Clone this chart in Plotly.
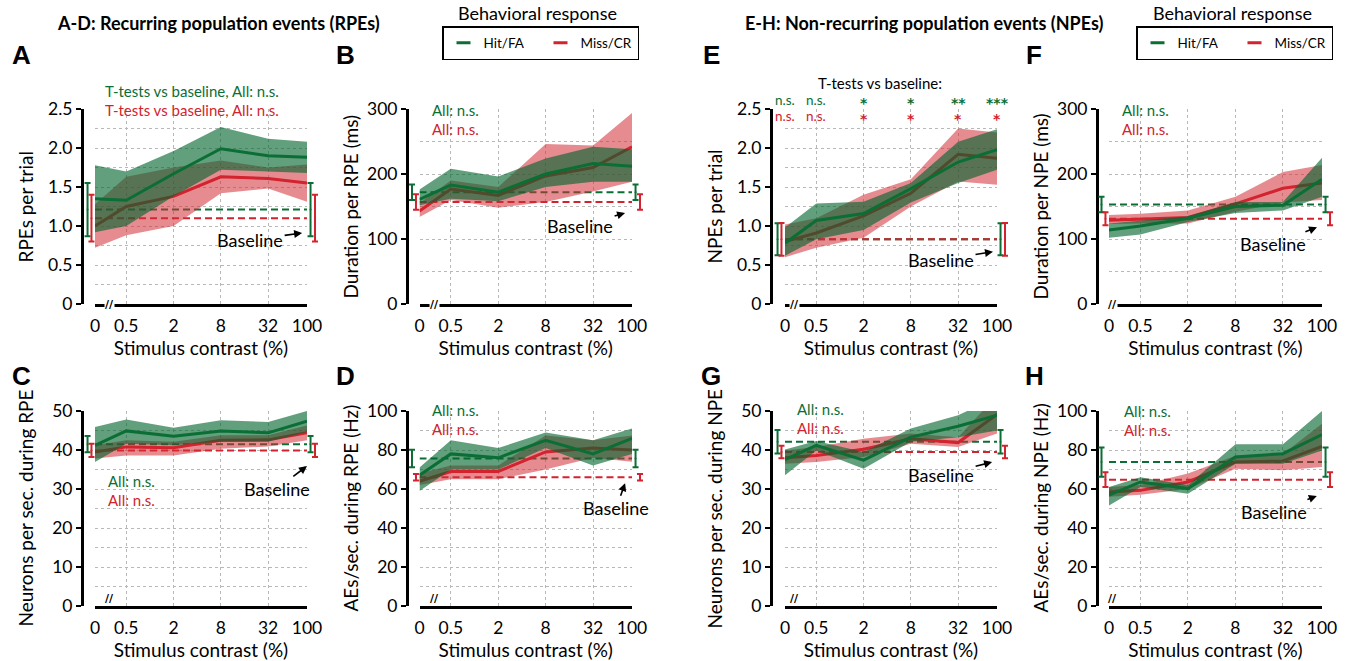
import math
import plotly.graph_objects as go

# ---------------- data ----------------
contrast_labels = ["0", "0.5", "2", "8", "32", "100"]
contrast = [0, 0.5, 2, 8, 32, 100]
ZERO_POS = 0.2  # position on the log axis where contrast 0 is drawn
x_plot = [ZERO_POS if c == 0 else c for c in contrast]

# A: RPEs per trial
A_hit_mean = [1.35, 1.33, 1.67, 1.99, 1.90, 1.88]
A_hit_lo = [0.92, 1.00, 1.38, 1.72, 1.70, 1.68]
A_hit_hi = [1.78, 1.70, 1.96, 2.27, 2.12, 2.08]
A_miss_mean = [1.00, 1.25, 1.38, 1.63, 1.61, 1.55]
A_miss_lo = [0.72, 0.88, 1.00, 1.42, 1.48, 1.31]
A_miss_hi = [1.28, 1.63, 1.75, 1.84, 1.75, 1.79]
A_base = [1.21, 1.10]
A_base_err = [0.34, 0.30]

# B: Duration per RPE (ms)
B_hit_mean = [161, 183, 172, 200, 216, 212]
B_hit_lo = [152, 162, 158, 180, 188, 188]
B_hit_hi = [176, 208, 196, 224, 242, 238]
B_miss_mean = [143, 177, 167, 197, 210, 242]
B_miss_lo = [134, 160, 148, 157, 173, 188]
B_miss_hi = [155, 190, 180, 246, 244, 294]
B_base = [172, 157]
B_base_err = [12, 12]

# C: Neurons per sec. during RPE
C_hit_mean = [41.2, 44.9, 43.5, 44.9, 44.4, 47.4]
C_hit_lo = [36.9, 41.6, 41.2, 42.1, 42.1, 44.6]
C_hit_hi = [45.9, 47.8, 45.7, 47.6, 47.2, 50.0]
C_miss_mean = [39.5, 40.8, 40.6, 42.5, 42.6, 44.4]
C_miss_lo = [37.8, 38.6, 38.6, 40.3, 40.9, 42.5]
C_miss_hi = [41.2, 42.5, 42.1, 43.8, 43.8, 46.3]
C_base = [41.5, 39.9]
C_base_err = [2.1, 1.7]

# D: AEs/sec. during RPE (Hz)
D_hit_mean = [67, 78, 76, 85, 78, 86]
D_hit_lo = [59, 70, 70, 81, 72, 78]
D_hit_hi = [71, 85, 81, 89, 85, 91]
D_miss_mean = [64, 69, 69, 79, 81, 80]
D_miss_lo = [62, 65, 65, 70, 76, 74]
D_miss_hi = [68, 72, 72, 87.5, 85, 87.5]
D_base = [75.6, 66]
D_base_err = [4.5, 1.7]

# E: NPEs per trial
E_hit_mean = [0.78, 1.07, 1.16, 1.48, 1.82, 1.98]
E_hit_lo = [0.62, 0.83, 0.95, 1.30, 1.55, 1.72]
E_hit_hi = [0.98, 1.29, 1.31, 1.55, 2.08, 2.24]
E_miss_mean = [0.80, 0.91, 1.13, 1.42, 1.92, 1.87]
E_miss_lo = [0.60, 0.72, 0.85, 1.25, 1.57, 1.53]
E_miss_hi = [1.02, 1.10, 1.40, 1.60, 2.25, 2.20]
E_base = [0.83, 0.83]
E_base_err = [0.205, 0.21]
E_sig_hit = ["n.s.", "n.s.", "*", "*", "**", "***"]
E_sig_miss = ["n.s.", "n.s.", "*", "*", "*", "*"]

# F: Duration per NPE (ms)
F_hit_mean = [114, 120, 132, 150, 152, 192]
F_hit_lo = [102, 107, 126, 140, 144, 165]
F_hit_hi = [124, 128, 135, 157, 157, 225]
F_miss_mean = [129, 131, 133, 154, 178, 186]
F_miss_lo = [123, 124, 124, 142, 156, 160]
F_miss_hi = [137, 139, 144, 165, 203, 214]
F_base = [153, 131]
F_base_err = [12, 10]

# G: Neurons per sec. during NPE
G_hit_mean = [37.5, 41.2, 37.4, 43.3, 46.1, 48.9]
G_hit_lo = [33.5, 39.9, 35.2, 42.1, 43.3, 45.0]
G_hit_hi = [40.1, 42.3, 39.5, 45.5, 48.9, 53.6]
G_miss_mean = [38.0, 38.6, 40.2, 42.9, 41.9, 49.1]
G_miss_lo = [36.5, 36.9, 38.2, 41.6, 40.8, 44.2]
G_miss_hi = [39.9, 40.8, 42.9, 44.2, 43.3, 54.0]
G_base = [42.1, 39.5]
G_base_err = [3.0, 1.6]

# H: AEs/sec. during NPE (Hz)
H_hit_mean = [56.8, 63.6, 60.2, 76.4, 78.1, 87.9]
H_hit_lo = [51.6, 61.0, 57.6, 73.0, 73.0, 79.8]
H_hit_hi = [61.0, 66.0, 62.0, 83.0, 83.0, 100.0]
H_miss_mean = [58.5, 59.3, 63.6, 73.8, 74.4, 81.9]
H_miss_lo = [56.0, 57.0, 60.0, 70.4, 69.6, 71.3]
H_miss_hi = [61.0, 62.0, 68.0, 77.0, 78.0, 93.5]
H_base = [73.8, 64.8]
H_base_err = [7.5, 3.8]

# ---------------- style ----------------
W, H = 1346, 661
FONT = "Lato"
GREEN = "#0b6e35"
RED = "#d2232e"
GREEN_FILL = "rgba(0,100,45,0.62)"
RED_FILL = "rgba(210,45,55,0.55)"
GRID = "#b8b8b8"


def px(x):
    return x / W


def py(y):
    return 1 - y / H


LOG0, LOG1 = math.log10(x_plot[0]), math.log10(x_plot[-1])
# column geometry: (data left, data right, y-axis line, letter x)
COLS = [(95, 307, 82, 21), (419.5, 632, 407, 346), (785, 997, 771, 711), (1109, 1322, 1097, 1034)]
ROWS = [(304, 109), (606, 411)]
EXT = 14  # px extension of the hidden baseline-error-bar axes

panels = [
    dict(letter="A", col=0, row=0, hit=(A_hit_mean, A_hit_lo, A_hit_hi), miss=(A_miss_mean, A_miss_lo, A_miss_hi),
         base=A_base, err=A_base_err, ymax=2.5, ticks=[0, 0.5, 1, 1.5, 2, 2.5],
         ticktext=["0", "0.5", "1.0", "1.5", "2.0", "2.5"], minor=0.25, title="RPEs per trial",
         arrow=(86.7, 0.91, -52, 7)),
    dict(letter="B", col=1, row=0, hit=(B_hit_mean, B_hit_lo, B_hit_hi), miss=(B_miss_mean, B_miss_lo, B_miss_hi),
         base=B_base, err=B_base_err, ymax=300, ticks=[0, 100, 200, 300], ticktext=["0", "100", "200", "300"],
         minor=50, title="Duration per RPE (ms)", arrow=(81.7, 140, -45, 13)),
    dict(letter="E", col=2, row=0, hit=(E_hit_mean, E_hit_lo, E_hit_hi), miss=(E_miss_mean, E_miss_lo, E_miss_hi),
         base=E_base, err=E_base_err, ymax=2.5, ticks=[0, 0.5, 1, 1.5, 2, 2.5],
         ticktext=["0", "0.5", "1.0", "1.5", "2.0", "2.5"], minor=0.25, title="NPEs per trial",
         arrow=(89, 0.67, -52, 8)),
    dict(letter="F", col=3, row=0, hit=(F_hit_mean, F_hit_lo, F_hit_hi), miss=(F_miss_mean, F_miss_lo, F_miss_hi),
         base=F_base, err=F_base_err, ymax=300, ticks=[0, 100, 200, 300], ticktext=["0", "100", "200", "300"],
         minor=50, title="Duration per NPE (ms)", arrow=(86.5, 118, -44, 17)),
    dict(letter="C", col=0, row=1, hit=(C_hit_mean, C_hit_lo, C_hit_hi), miss=(C_miss_mean, C_miss_lo, C_miss_hi),
         base=C_base, err=C_base_err, ymax=50, ticks=[0, 10, 20, 30, 40, 50],
         ticktext=["0", "10", "20", "30", "40", "50"], minor=5, title="Neurons per sec. during RPE",
         arrow=(100, 35.9, -30, 23)),
    dict(letter="D", col=1, row=1, hit=(D_hit_mean, D_hit_lo, D_hit_hi), miss=(D_miss_mean, D_miss_lo, D_miss_hi),
         base=D_base, err=D_base_err, ymax=100, ticks=[0, 20, 40, 60, 80, 100],
         ticktext=["0", "20", "40", "60", "80", "100"], minor=10, title="AEs/sec. during RPE (Hz)",
         arrow=(81.7, 63, -9, 25)),
    dict(letter="G", col=2, row=1, hit=(G_hit_mean, G_hit_lo, G_hit_hi), miss=(G_miss_mean, G_miss_lo, G_miss_hi),
         base=G_base, err=G_base_err, ymax=50, ticks=[0, 10, 20, 30, 40, 50],
         ticktext=["0", "10", "20", "30", "40", "50"], minor=5, title="Neurons per sec. during NPE",
         arrow=(86.7, 36.9, -51, 13)),
    dict(letter="H", col=3, row=1, hit=(H_hit_mean, H_hit_lo, H_hit_hi), miss=(H_miss_mean, H_miss_lo, H_miss_hi),
         base=H_base, err=H_base_err, ymax=100, ticks=[0, 20, 40, 60, 80, 100],
         ticktext=["0", "20", "40", "60", "80", "100"], minor=10, title="AEs/sec. during NPE (Hz)",
         arrow=(86, 56.4, -43, 16)),
]

fig = go.Figure()
layout = dict()
annotations = []

# baseline error-bar x positions: small offsets beyond the axis ends (log axis)
xl_hit = x_plot[0] * 10 ** -0.095
xl_miss = x_plot[0] * 10 ** -0.045
xr_hit = x_plot[-1] * 10 ** 0.045
xr_miss = x_plot[-1] * 10 ** 0.102

NP = len(panels)
for i, p in enumerate(panels):
    n = i + 1
    xa = "x" if n == 1 else f"x{n}"
    ya = "y" if n == 1 else f"y{n}"
    xb, yb_id = f"x{n + NP}", f"y{n + NP}"
    xl, xr, axx, letx = COLS[p["col"]]
    yb, yt = ROWS[p["row"]]

    # baselines (dashed)
    for (k, col) in [(0, GREEN), (1, RED)]:
        fig.add_trace(go.Scatter(x=[x_plot[0], x_plot[-1]], y=[p["base"][k]] * 2, mode="lines",
                                 line=dict(color=col, width=2, dash="7px,4px"), showlegend=False,
                                 hoverinfo="skip", xaxis=xa, yaxis=ya))

    # bands + mean lines: miss first, then hit on top
    for (series, fillc, linec) in [(p["miss"], RED_FILL, RED), (p["hit"], GREEN_FILL, GREEN)]:
        mean, lo, hi = series
        fig.add_trace(go.Scatter(x=x_plot + x_plot[::-1], y=list(hi) + list(lo)[::-1], fill="toself",
                                 fillcolor=fillc, line=dict(width=0), mode="lines", showlegend=False,
                                 hoverinfo="skip", xaxis=xa, yaxis=ya))
        fig.add_trace(go.Scatter(x=x_plot, y=mean, mode="lines", line=dict(color=linec, width=3),
                                 showlegend=False, xaxis=xa, yaxis=ya))

    # baseline error bars on hidden, slightly wider axes
    for (k, col, xs) in [(0, GREEN, [xl_hit, xr_hit]), (1, RED, [xl_miss, xr_miss])]:
        fig.add_trace(go.Scatter(x=xs, y=[p["base"][k]] * 2, mode="markers",
                                 marker=dict(size=2, color=col),
                                 error_y=dict(type="constant", value=p["err"][k], color=col, thickness=2, width=3),
                                 showlegend=False, hoverinfo="skip", xaxis=xb, yaxis=yb_id))

    kpd = (xr - xl) / (LOG1 - LOG0)  # pixels per decade
    xkey = "xaxis" if n == 1 else f"xaxis{n}"
    ykey = "yaxis" if n == 1 else f"yaxis{n}"
    layout[xkey] = dict(
        domain=[px(xl), px(xr)], anchor=ya, type="log", range=[LOG0, LOG1],
        tickmode="array", tickvals=x_plot, ticktext=contrast_labels,
        showgrid=True, gridcolor=GRID, griddash="3px,3px", gridwidth=1,
        showline=True, linecolor="black", linewidth=3, ticks="", ticklabelstandoff=4,
        tickfont=dict(family=FONT, size=17.5, color="black"),
        title=dict(text="Stimulus contrast (%)", font=dict(family=FONT, size=19, color="black"), standoff=0),
        zeroline=False,
    )
    layout[ykey] = dict(
        domain=[py(yb), py(yt)], anchor="free", position=px(axx), range=[0, p["ymax"]],
        tickmode="array", tickvals=p["ticks"], ticktext=p["ticktext"],
        showgrid=True, gridcolor=GRID, griddash="3px,3px", gridwidth=1,
        minor=dict(tickmode="linear", tick0=0, dtick=p["minor"], showgrid=True, gridcolor=GRID,
                   griddash="3px,3px", gridwidth=1, ticks=""),
        showline=True, linecolor="black", linewidth=3, ticks="outside", ticklen=5, tickwidth=2,
        tickcolor="black", tickfont=dict(family=FONT, size=17.5, color="black"),
        zeroline=False,
    )
    layout[f"xaxis{n + NP}"] = dict(
        domain=[px(xl - EXT), px(xr + EXT)], anchor=yb_id, type="log", visible=False,
        range=[LOG0 - EXT / kpd, LOG1 + EXT / kpd], fixedrange=True)
    layout[f"yaxis{n + NP}"] = dict(
        domain=[py(yb), py(yt)], anchor=xb, range=[0, p["ymax"]], visible=False, fixedrange=True)

    # y-axis title (fixed distance from the axis line, as in the reference)
    annotations.append(dict(x=px(axx - 57), y=py((yb + yt) / 2), xref="paper", yref="paper",
                            text=p["title"], textangle=-90, showarrow=False, xanchor="center",
                            yanchor="middle", font=dict(family=FONT, size=19, color="black")))
    # panel letter
    annotations.append(dict(x=px(letx), y=py(55 if p["row"] == 0 else 376), xref="paper", yref="paper",
                            text=f"<b>{p['letter']}</b>", showarrow=False, xanchor="center", yanchor="middle",
                            font=dict(family="Liberation Sans", size=26, color="black")))
    # axis break mark
    annotations.append(dict(x=px(xl + 9), y=py(yb), xref="paper", yref="paper", text="<b>//</b>",
                            showarrow=False, bgcolor="white", borderpad=0,
                            font=dict(family="DejaVu Sans", size=11, color="black")))
    # Baseline arrow (log axis: annotation x in log10 units)
    ax_, ay_, dx, dy = p["arrow"]
    annotations.append(dict(x=math.log10(ax_), y=ay_, xref=xa, yref=ya, text="Baseline", showarrow=True,
                            ax=dx, ay=dy, arrowhead=2, arrowsize=1, arrowwidth=1.6, arrowcolor="black",
                            font=dict(family=FONT, size=18, color="black")))


def txt(x, y, text, color, size=15, xanchor="left"):
    annotations.append(dict(x=px(x), y=py(y), xref="paper", yref="paper", text=text, showarrow=False,
                            xanchor=xanchor, yanchor="middle", font=dict(family=FONT, size=size, color=color)))


txt(103, 91, "T-tests vs baseline, All: n.s.", GREEN)
txt(103, 110, "T-tests vs baseline, All: n.s.", RED)
for (x0, y0) in [(430, 110), (1120, 110), (106, 481), (430, 410), (795, 409), (1122, 411)]:
    txt(x0, y0, "All: n.s.", GREEN)
    txt(x0, y0 + 19, "All: n.s.", RED)

txt(880, 83, "T-tests vs baseline:", "black", 15, "center")
for xv, sh, sm in zip(x_plot, E_sig_hit, E_sig_miss):
    for s, yy, col in [(sh, 100, GREEN), (sm, 116, RED)]:
        star = s.startswith("*")
        annotations.append(dict(x=math.log10(xv), y=py(yy + (3 if star else 0)), xref="x3", yref="paper",
                                text=f"<b>{s}</b>" if star else s, showarrow=False, yanchor="middle",
                                font=dict(family="DejaVu Sans" if star else FONT, size=14 if star else 13.5,
                                          color=col)))

# group titles
txt(55, 23, "<b>A-D: Recurring population events (RPEs)</b>", "black", 18)
txt(743, 23, "<b>E-H: Non-recurring population events (NPEs)</b>", "black", 18)
txt(537, 13, "Behavioral response", "black", 18, "center")
txt(1232, 13, "Behavioral response", "black", 18, "center")

# legend entries
for leg, xa, ya in [("legend", "x", "y"), ("legend2", "x3", "y3")]:
    fig.add_trace(go.Scatter(x=[None], y=[None], mode="markers", name="Hit/FA", legend=leg,
                             marker=dict(symbol="line-ew", size=10, line=dict(width=3, color=GREEN)),
                             xaxis=xa, yaxis=ya))
    fig.add_trace(go.Scatter(x=[None], y=[None], mode="markers", name="Miss/CR", legend=leg,
                             marker=dict(symbol="line-ew", size=10, line=dict(width=3, color=RED)),
                             xaxis=xa, yaxis=ya))

legbase = dict(orientation="h", xanchor="left", yanchor="top", bordercolor="black", borderwidth=1.5,
               bgcolor="white", font=dict(family=FONT, size=13.5, color="black"), entrywidth=52,
               entrywidthmode="pixels", itemwidth=30)
layout["legend"] = dict(legbase, x=px(442), y=py(26))
layout["legend2"] = dict(legbase, x=px(1136), y=py(26))

fig.update_layout(width=W, height=H, margin=dict(l=0, r=0, t=0, b=0, autoexpand=False),
                  paper_bgcolor="white", plot_bgcolor="rgba(0,0,0,0)", annotations=annotations,
                  showlegend=True, font=dict(family=FONT, color="black"), **layout)

fig.write_html("out.html", config={"displayModeBar": False},
               post_script="document.body.style.margin='0px';")
